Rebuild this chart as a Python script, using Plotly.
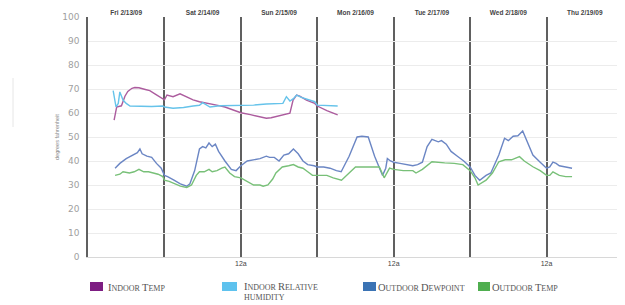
import plotly.graph_objects as go

# ---- data (x = hours since Fri 2/13/09 00:00) ----
day_labels = ["Fri 2/13/09", "Sat 2/14/09", "Sun 2/15/09", "Mon 2/16/09",
              "Tue 2/17/09", "Wed 2/18/09", "Thu 2/19/09"]
day_centers = [12, 36, 60, 84, 108, 132, 156]
day_lines = [0, 24, 48, 72, 96, 120, 144, 168]
bottom_text = ["", "", "12a", "", "12a", "", "12a", ""]

indoor_temp_h = [8.2, 9, 10.5, 11.6, 12.5, 13.8, 14.7, 16, 18, 19.4, 21, 23.5, 24, 24.8, 26,
                 26.7, 28.9, 31, 33, 35, 38, 40.4, 43, 45.5, 48, 51, 54, 56, 57.5, 59.2,
                 61.2, 63.4, 64.4, 65.5, 66.5, 68.6, 71.2, 72, 75, 78.4]
indoor_temp_v = [57, 62.5, 63, 67, 69, 70.3, 70.6, 70.5, 69.8, 69.3, 68, 65.8, 65.5, 67.5, 67,
                 66.8, 68, 66.7, 65.5, 64.7, 64, 63.3, 62.5, 61.25, 60.1, 59.3, 58.3, 57.8, 58, 58.5,
                 59.2, 59.9, 65.4, 67.5, 67, 65.4, 64, 62.9, 61, 59.2]

indoor_rh_h = [7.9, 8.5, 8.8, 9.5, 10, 11, 12, 13.2, 16, 20, 23.5, 24, 26.7, 30, 33, 35, 36,
               37, 38.3, 41.4, 45, 47.7, 52, 56, 59, 61.2, 62.3, 63.4, 64.5, 65.5, 67, 69,
               71.2, 72, 75, 78.4]
indoor_rh_v = [69.3, 65, 62.5, 64, 68.8, 65.4, 64, 62.9, 62.8, 62.7, 62.9, 62.5, 62, 62.3, 62.9,
               63.2, 64.3, 63.5, 62.5, 63, 63, 63, 63.3, 63.75, 63.9, 64, 66.8, 65, 66, 67.5,
               66.5, 65.5, 64.7, 63.3, 63.2, 62.9]

dew_h = [8.5, 10, 12, 14, 15.5, 16.3, 17, 18.5, 20, 21.5, 23, 24, 25, 27, 29, 31, 32, 33.5,
         35, 36, 37, 38, 39, 40, 41, 43, 45, 46.5, 48, 50, 52, 54, 56, 57, 58.5, 60, 61.5,
         63, 64.5, 66, 67.5, 69, 71, 72, 74, 76, 78, 79.5, 82, 84.5, 86, 88, 90, 92.5, 93.5,
         94, 95, 96, 98, 100, 102, 103.5, 105, 106.5, 108, 110, 111, 112.5, 114, 116, 118,
         120, 121.5, 123, 125, 126.5, 129, 130.8, 132, 133.5, 135, 136.5, 138, 139.7, 142,
         144, 145, 146, 147, 148, 150, 152]
dew_v = [37, 39, 41, 42.5, 43.5, 45, 43, 42, 41.5, 39, 37, 34, 33.5, 32, 30.5, 29.5, 30.5, 36,
         45, 46, 45.5, 47.5, 46, 47, 44, 40, 36.5, 36, 38, 40, 40.5, 41, 42, 41.5, 41.5, 40,
         42.5, 43, 45, 43, 40, 38.5, 38, 37.5, 37.5, 37, 36, 35.5, 42, 50, 50.3, 50, 42, 34, 37,
         41, 40, 39.5, 39, 38.5, 38, 38.5, 39.5, 46, 49, 48, 48.5, 47, 44, 42, 40,
         37.5, 34, 32, 34, 35, 42.5, 49.5, 48.5, 50.3, 50.5, 52.5, 48, 42.5, 39.5,
         37, 37.5, 39.5, 39, 38, 37.5, 37]

out_h = [8.5, 10, 11, 13, 14.5, 16, 17.5, 19, 20.5, 22, 23.5, 24, 25.5, 27, 29, 31, 32.5, 34,
         35, 36.5, 38, 39, 40.5, 42, 43, 44.5, 46, 48, 50, 52, 54, 55, 56.5, 58, 59, 61, 63,
         64.5, 66, 67.5, 69, 70.5, 72, 75, 77, 79.6, 82, 84, 88, 91.5, 93, 94.7, 96, 99, 102,
         103, 105, 108, 112, 115, 117.7, 120, 121.5, 122.5, 125, 127, 129, 131, 133, 135.5,
         137, 139.7, 142, 144, 145, 146, 148, 150, 152]
out_v = [34, 34.5, 35.5, 35, 35.5, 36.5, 35.5, 35.5, 35, 34.5, 33.5, 32, 31.5, 30.5, 29.5, 29,
         30, 34, 35.5, 35.5, 36.5, 35.5, 36, 37, 37.5, 35, 33.5, 33, 31.5, 30, 30, 29.5, 30,
         32.5, 35, 37.5, 38, 38.5, 37.5, 37, 35.5, 34, 34, 34, 33, 32, 35, 37.5, 37.5, 37.5, 33,
         37, 36.5, 36, 36, 35, 36.5, 39.7, 39.2, 39, 38.5, 36, 33, 30, 32, 35, 39.7, 40.5, 40.5,
         41.8, 40, 37.6, 36, 34, 34, 35.5, 34, 33.5, 33.5]

series_names = ["Indoor Temp", "Indoor Relative humidity", "Outdoor Dewpoint", "Outdoor Temp"]
line_colors = ["#ac5c9e", "#66c3ea", "#6b86c4", "#78c078"]
swatch_colors = ["#7d1d82", "#5ec2ee", "#3b73b4", "#4fae4f"]

fig = go.Figure()
for (xs, ys), name, col in zip(
        [(indoor_temp_h, indoor_temp_v), (indoor_rh_h, indoor_rh_v),
         (dew_h, dew_v), (out_h, out_v)], series_names, line_colors):
    fig.add_trace(go.Scatter(x=xs, y=ys, mode="lines", name=name,
                             line=dict(color=col, width=1.4), showlegend=False))

# invisible trace for the top axis
fig.add_trace(go.Scatter(x=[0, 168], y=[None, None], xaxis="x2", showlegend=False,
                         hoverinfo="skip"))

# The page body has an 8px margin, so the figure is sized/offset to compensate.
W, H = 617, 297
fig.update_layout(
    width=W, height=H,
    margin=dict(l=80, r=2, t=9, b=48, autoexpand=False),
    paper_bgcolor="white", plot_bgcolor="white",
    font=dict(family="Liberation Sans, Arial, sans-serif"),
    xaxis=dict(range=[0, 168], tickmode="array", tickvals=day_lines, ticktext=bottom_text,
               showgrid=True, gridcolor="#606060", gridwidth=1.6, zeroline=False,
               ticks="", tickfont=dict(size=7, color="#444", family="Liberation Sans"),
               showline=True, linecolor="#d8d8d8", linewidth=1, automargin=False),
    xaxis2=dict(range=[0, 168], overlaying="x", side="top", tickmode="array",
                tickvals=day_centers, ticktext=["<b>%s</b>" % d for d in day_labels],
                showgrid=False, zeroline=False, ticks="", showline=False, automargin=False,
                tickfont=dict(size=6.5, color="#444", family="Liberation Sans")),
    yaxis=dict(range=[0, 100], tickmode="linear", tick0=0, dtick=10,
               showgrid=True, gridcolor="#ececec", gridwidth=1, zeroline=False,
               ticks="", ticklabelstandoff=5, automargin=False,
               showline=True, linecolor="#606060", linewidth=1.6, mirror=True,
               tickfont=dict(size=9, color="#a0a0a0", family="DejaVu Sans")),
)

annotations = [
    dict(text="degrees fahrenheit", xref="paper", yref="paper", x=-0.058, y=0.5,
         textangle=-90, showarrow=False, font=dict(size=5.5, color="#888"),
         xanchor="center", yanchor="middle"),
]

B = "<span style='font-size:10.5px'>%s</span>"
legend_texts = [
    B % "I" + "NDOOR " + B % "T" + "EMP",
    B % "I" + "NDOOR " + B % "R" + "ELATIVE" + "<br>HUMIDITY",
    B % "O" + "UTDOOR " + B % "D" + "EWPOINT",
    B % "O" + "UTDOOR " + B % "T" + "EMP",
]
sw_px = [(90, 103), (222, 237), (363, 376), (478, 490)]
txt_px = [107, 243, 377, 491]
txt_py = [287, 280, 287, 287]
txt_anchor = ["middle", "top", "middle", "middle"]
shapes = []
for (x0, x1), tx, ty, ya, col, t in zip(sw_px, txt_px, txt_py, txt_anchor,
                                        swatch_colors, legend_texts):
    shapes.append(dict(type="rect", xref="paper", yref="paper",
                       x0=(x0 - 88) / 535, x1=(x1 - 88) / 535,
                       y0=(257 - 291) / 240, y1=(257 - 282) / 240,
                       fillcolor=col, line=dict(width=0)))
    annotations.append(dict(text=t, xref="paper", yref="paper", x=(tx - 88) / 535,
                            y=(257 - ty) / 240, xanchor="left", yanchor=ya,
                            showarrow=False, align="left", borderpad=0,
                            font=dict(family="Liberation Serif, serif", size=8, color="#555")))

# faint mark at far left
shapes.append(dict(type="line", xref="paper", yref="paper",
                   x0=(13 - 88) / 535, x1=(13 - 88) / 535,
                   y0=(257 - 127) / 240, y1=(257 - 78) / 240,
                   line=dict(color="#e6e6e6", width=1)))

fig.update_layout(annotations=annotations, shapes=shapes)
fig.write_html("out.html")
